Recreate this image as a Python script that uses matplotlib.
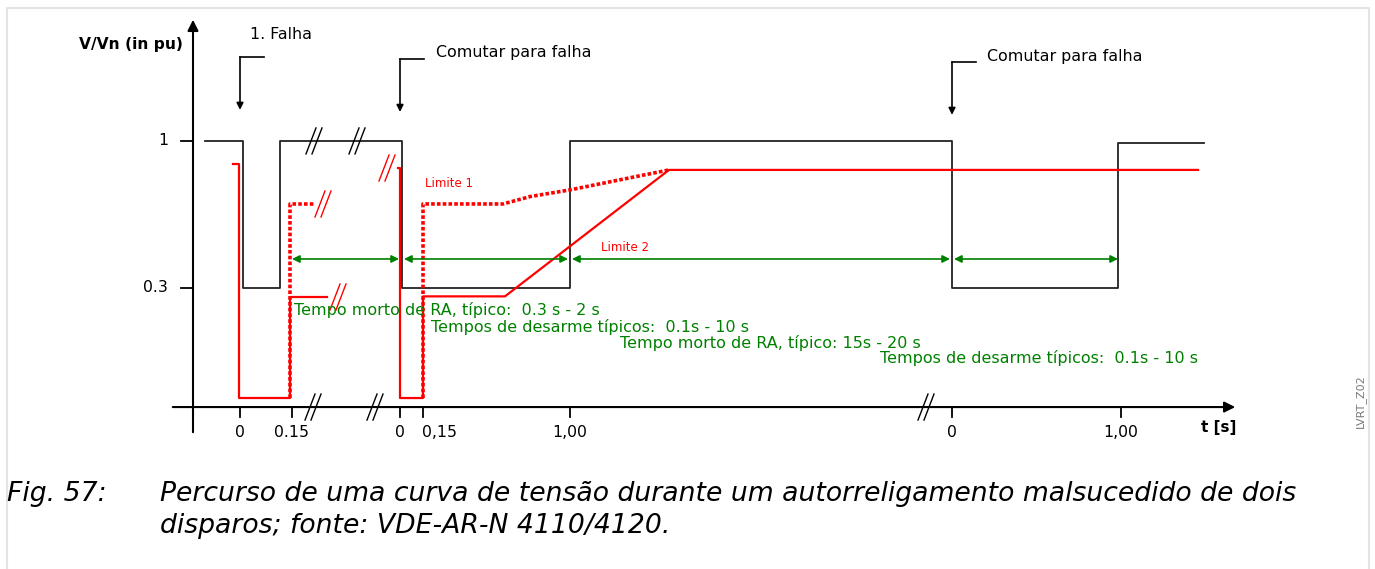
import numpy as np
import matplotlib
matplotlib.use("Agg")
import matplotlib.pyplot as plt

# voltage curve (diagram position, pu)
volt_x = [205, 243, 243, 280, 280, 402, 402, 570, 570, 952, 952, 1118, 1118, 1204]
volt_y = [1.0, 1.0, 0.3, 0.3, 1.0, 1.0, 0.3, 0.3, 1.0, 1.0, 0.3, 0.3, 0.99, 0.99]

# limit 2 (solid red), first shot and second shot
lim2a_x = [233, 239, 239, 290, 290, 327]
lim2a_y = [0.89, 0.89, -0.224, -0.224, 0.257, 0.257]
lim2b_x = [398, 400, 400, 423, 423, 505, 669, 1198]
lim2b_y = [0.871, 0.871, -0.224, -0.224, 0.26, 0.26, 0.862, 0.862]

# limit 1 (dotted red)
lim1a_x = [290, 290, 314]
lim1a_y = [-0.224, 0.70, 0.70]
lim1b_x = [423, 423, 503, 530, 570, 669]
lim1b_y = [-0.224, 0.70, 0.70, 0.735, 0.767, 0.862]

# time axis ticks
tick_x = [240, 292, 400, 423, 570, 952, 1121]
tick_lbl = ["0", "0.15", "0", "0,15", "1,00", "0", "1,00"]
tick_ha = ["center", "center", "center", "left", "center", "center", "center"]

# green spans
span_start = [292, 404, 572, 954]
span_end = [399, 568, 950, 1118]
span_txt = ["Tempo morto de RA, típico:  0.3 s - 2 s",
            "Tempos de desarme típicos:  0.1s - 10 s",
            "Tempo morto de RA, típico: 15s - 20 s",
            "Tempos de desarme típicos:  0.1s - 10 s"]
span_txt_x = [294, 431, 620, 880]
span_txt_y = [0.195, 0.114, 0.038, -0.033]

# fault markers
fault_x = [240, 400, 952]
fault_lbl = ["1. Falha", "Comutar para falha", "Comutar para falha"]
fault_lbl_x = [250, 436, 987]
fault_lbl_y = [1.505, 1.419, 1.40]
fault_hook_y = [1.40, 1.39, 1.376]
fault_tip_y = [1.148, 1.138, 1.124]

# break marks
brk_black = [(314, 1.0), (357, 1.0), (313, -0.267), (375, -0.267), (926, -0.267)]
brk_red = [(323, 0.70), (338, 0.257), (387, 0.871)]

PX = 1 / 210.0  # one pixel in pu
AX_Y = -0.267
GREEN = "#008000"
RED = "#ff0000"
BLACK = "#222222"

fig = plt.figure(figsize=(13.75, 5.69), dpi=100)
ax = fig.add_axes([0, 0, 1, 1])
ax.set_xlim(0, 1375)
ax.set_ylim(-1.038, 1.671)
ax.axis("off")

# light frame
ax.plot([7, 7, 1369, 1369], [-1.05, 1.633, 1.633, -1.05], color="#e4e4e4", lw=1.5)

# axes with arrows
ax.annotate("", xy=(1238, AX_Y), xytext=(170, AX_Y),
            arrowprops=dict(arrowstyle="-|>", color="black", lw=1.5, mutation_scale=16))
ax.annotate("", xy=(193, 1.59), xytext=(193, -0.40),
            arrowprops=dict(arrowstyle="-|>", color="black", lw=1.5, mutation_scale=16))

# y ticks
for v, lbl in zip([1.0, 0.3], ["1", "0.3"]):
    ax.plot([181, 193], [v, v], color="black", lw=1.3)
    ax.text(168, v, lbl, ha="right", va="center", fontsize=11.3)
ax.text(183, 1.457, "V/Vn (in pu)", ha="right", va="center", fontsize=11.2, fontweight="bold")

# x ticks
for x, lbl, ha in zip(tick_x, tick_lbl, tick_ha):
    ax.plot([x, x], [AX_Y, AX_Y - 10 * PX], color="black", lw=1.3)
    ax.text(x - 1 if ha == "left" else x, -0.386, lbl, ha=ha, va="center", fontsize=11.3)
ax.text(1219, -0.362, "t [s]", ha="center", va="center", fontsize=11, fontweight="bold")

# curves
ax.plot(volt_x, volt_y, color=BLACK, lw=1.3)
ax.plot(lim2a_x, lim2a_y, color=RED, lw=1.6)
ax.plot(lim2b_x, lim2b_y, color=RED, lw=1.6)
ax.plot(lim1a_x, lim1a_y, color=RED, lw=2.6, ls=(0, (1, 0.6)))
ax.plot(lim1b_x, lim1b_y, color=RED, lw=2.6, ls=(0, (1, 0.6)))
ax.text(425, 0.795, "Limite 1", color=RED, fontsize=8.5, va="center")
ax.text(601, 0.495, "Limite 2", color=RED, fontsize=8.5, va="center")


def brk(x, y, color):
    for off in (-3, 3):
        ax.plot([x + off - 5, x + off + 5], [y - 13 * PX, y + 13 * PX], color=color, lw=1.0)


for x, y in brk_black:
    brk(x, y, "black")
for x, y in brk_red:
    brk(x, y, RED)

# green spans
for s, e in zip(span_start, span_end):
    ax.annotate("", xy=(e, 0.438), xytext=(s, 0.438),
                arrowprops=dict(arrowstyle="<|-|>", color=GREEN, lw=1.2, mutation_scale=11,
                                shrinkA=0, shrinkB=0))
for t, x, y in zip(span_txt, span_txt_x, span_txt_y):
    ax.text(x, y, t, color=GREEN, fontsize=11.5, va="center")

# fault markers
for fx, lx, ly, hy, ty, lbl in zip(fault_x, fault_lbl_x, fault_lbl_y, fault_hook_y, fault_tip_y, fault_lbl):
    ax.plot([fx + 24, fx], [hy, hy], color="black", lw=1.2)
    ax.annotate("", xy=(fx, ty), xytext=(fx, hy),
                arrowprops=dict(arrowstyle="-|>", color="black", lw=1.2, mutation_scale=10,
                                shrinkA=0, shrinkB=0))
    ax.text(lx, ly, lbl, fontsize=11.4, va="center")

ax.text(1360, -0.238, "LVRT_Z02", rotation=90, color="#777777", fontsize=8, ha="center", va="center")

# caption
ax.text(7, -0.681, "Fig. 57:", fontsize=19.2, style="italic", va="center")
ax.text(160, -0.681, "Percurso de uma curva de tensão durante um autorreligamento malsucedido de dois",
        fontsize=19.2, style="italic", va="center")
ax.text(160, -0.833, "disparos; fonte: VDE-AR-N 4110/4120.", fontsize=19.2, style="italic", va="center")

fig.savefig("out.png", dpi=100)
